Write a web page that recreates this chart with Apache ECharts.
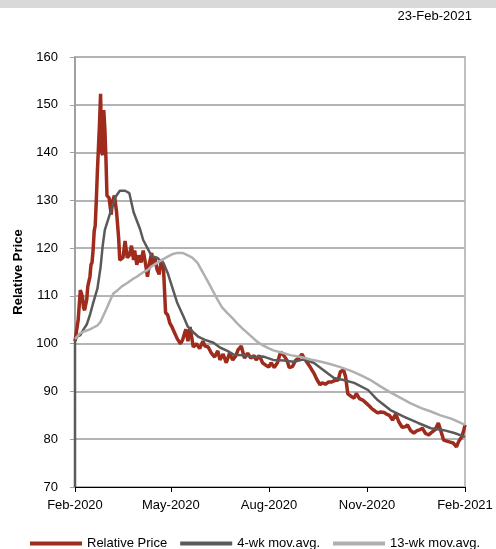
<!DOCTYPE html>
<html>
<head>
<meta charset="utf-8">
<script src="https://cdn.jsdelivr.net/npm/echarts@6/dist/echarts.min.js"></script>
<style>
html,body{margin:0;padding:0;background:#fff;}
#chart{width:496px;height:549px;}
</style>
</head>
<body>
<div id="chart"></div>
<script>
// Days counted from 23-Feb-2020
var startDate = [2020, 1, 23];
var tickDays = [0, 90, 182, 274, 366];
var yTicks = [70, 160, 10];
var headerDate = '23-Feb-2021';
var seriesNames = ['Relative Price', '4-wk mov.avg.', '13-wk mov.avg.'];

var priceDays = [0,2,3,5,7,8,9,11,12,14,15,16,17,18,19,20,21,22,23,24,25,26,27,28,29,30,32,34,35,37,39,41,42,45,47,49,51,53,55,56,58,60,62,64,66,68,70,72,73,75,77,79,81,83,85,87,89,91,94,96,99,101,104,106,108,111,114,117,120,122,125,128,131,134,136,139,142,145,148,151,153,156,159,162,165,168,170,173,176,179,182,184,187,190,193,196,199,201,204,207,210,213,215,218,221,224,227,230,232,235,238,241,244,247,249,252,254,256,259,262,264,267,270,273,276,279,281,284,287,290,293,295,298,301,304,307,310,312,315,318,321,324,326,329,332,335,338,341,343,346,349,352,355,358,360,363,365,366];
var priceValues = [100.5,103.5,105,111.2,109.8,107.5,107,109.2,112,114,116.5,117,119.6,123.5,124.8,130,136,141,146,152.3,140,139.5,148.9,145,139,131,130.5,127,129.7,131,127.6,122,117.5,118,121.5,118,118.5,120.5,117.5,119.5,116.5,118.5,117,119.5,117,114,117,119,116.5,118,115.5,114.5,117.5,116,106.5,106,104.3,103.5,102,101,100,100.8,103,100.5,103.5,99.3,100,99,100.5,99.5,99.3,98,97.2,98.5,96.6,97.8,96,98,96.6,97.5,98.7,99.5,97,98,97,97.5,96.6,97.5,96,95.5,95.1,96,95,96,98.3,97.5,96.5,95,95.2,96.5,97,97.8,97,96,95,93.9,92.5,91.4,91.8,91.5,92,92,92.3,92.4,94.1,94.5,93,89.5,89,88.6,89.6,88.5,88.2,87.6,87,86.3,86,85.5,85.7,85.6,85.2,85,84,85.3,83.6,82.5,82.6,83,81.8,81.3,81.8,82,82.3,81.2,80.9,81.5,82,83.4,82,79.8,79.6,79.4,79.2,78.4,79.5,80.5,82,83];

var ma4Days = [0,0,2,5,8,11,14,17,21,24,26,28,33,38,42,47,51,55,61,64,68,72,77,83,87,91,96,102,106,111,116,122,130,136,143,149,158,167,177,186,196,205,214,224,233,243,252,262,275,284,296,309,322,334,346,356,366];
var ma4Values = [70,100.5,101.5,101.8,103,104,106,108.5,111.5,116,120.5,123.8,127.3,130.7,132,132,131.5,127.5,124,121.7,120,118.3,118,116.9,114.8,112,108.5,105.6,103.5,102.4,101.4,100.8,100.2,99.2,98.5,97.7,97.6,97.2,97.3,96.6,96.5,96.2,96.7,96,94.5,92.8,92.4,91.8,90.3,88.2,86.1,84.7,83.4,82.3,81.9,81.3,80.5];

var ma13Days = [0,5,9,14,21,24,26,30,33,36,40,44,49,54,58,63,68,72,77,82,87,91,96,101,105,110,115,119,124,129,134,138,143,148,152,157,162,167,171,176,181,186,193,202,212,221,231,240,249,259,268,278,287,296,306,315,325,334,343,353,362,366];
var ma13Values = [101,102.2,102.6,103,103.8,104.6,105.6,107.5,109.1,110.5,111.2,112,112.7,113.5,114,114.8,115.4,116.2,116.9,117.6,118.2,118.7,119,119,118.6,118,116.9,115.3,113.3,111.2,109.1,107.6,106.4,105.3,104.3,103.2,102.2,101.2,100.4,99.7,99.1,98.6,98.2,97.6,97.2,96.7,96.2,95.7,95.1,94.3,93.4,92.3,91,89.8,88.6,87.5,86.5,85.8,85,84.3,83.4,83];

var DAY = 86400000;
var t0 = Date.UTC(startDate[0], startDate[1], startDate[2]);
var MONTHS = ['Jan','Feb','Mar','Apr','May','Jun','Jul','Aug','Sep','Oct','Nov','Dec'];
function dayLabel(d) { var dt = new Date(t0 + Math.round(d) * DAY); return MONTHS[dt.getUTCMonth()] + '-' + dt.getUTCFullYear(); }
function pairs(days, vals) { return days.map(function (d, i) { return [d, vals[i]]; }); }

var font = 'Liberation Sans, Arial, sans-serif';
var chart = echarts.init(document.getElementById('chart'), null, {renderer: 'canvas'});
chart.setOption({
  animation: false,
  backgroundColor: '#ffffff',
  textStyle: {fontFamily: font},
  graphic: [
    {type: 'rect', left: 0, top: 0, shape: {width: 496, height: 8}, style: {fill: '#d9d9d9'}, silent: true},
    {type: 'text', right: 24, top: 10, style: {text: headerDate, font: '13px ' + font, fill: '#000'}}
  ],
  grid: {left: 75, right: 31, top: 57, bottom: 62, show: true, borderColor: '#c0c0c0', borderWidth: 2, backgroundColor: 'transparent'},
  legend: {
    left: 30, top: 537, padding: 0, itemWidth: 52, itemHeight: 4, itemGap: 13, icon: 'rect',
    textStyle: {fontSize: 13, color: '#000', fontFamily: font},
    data: seriesNames
  },
  xAxis: {
    type: 'value', min: tickDays[0], max: tickDays[tickDays.length - 1],
    axisLine: {show: true, onZero: false, lineStyle: {color: '#000', width: 1}},
    axisTick: {show: true, inside: false, length: 5, customValues: tickDays, lineStyle: {color: '#000'}},
    axisLabel: {
      customValues: tickDays, color: '#000', fontSize: 13, fontFamily: font, margin: 12,
      showMinLabel: true, showMaxLabel: true,
      formatter: function (v) { return dayLabel(v); }
    },
    splitLine: {show: false}
  },
  yAxis: {
    type: 'value', min: yTicks[0], max: yTicks[1], interval: yTicks[2],
    name: 'Relative Price', nameLocation: 'middle', nameGap: 49, nameRotate: 90,
    nameTextStyle: {fontSize: 13, fontWeight: 'bold', color: '#000', fontFamily: font},
    axisLine: {show: true, lineStyle: {color: '#a0a0a0', width: 2}},
    axisTick: {show: true, inside: false, length: 5, lineStyle: {color: '#a0a0a0'}},
    axisLabel: {color: '#000', fontSize: 13, fontFamily: font, margin: 17},
    splitLine: {show: true, lineStyle: {color: '#b4b4b4', width: 2}}
  },
  series: [
    {name: seriesNames[0], type: 'line', data: pairs(priceDays, priceValues), showSymbol: false, symbol: 'none',
     lineStyle: {color: '#9e2b1c', width: 3.5}, itemStyle: {color: '#9e2b1c'}},
    {name: seriesNames[1], type: 'line', data: pairs(ma4Days, ma4Values), showSymbol: false, symbol: 'none',
     lineStyle: {color: '#5a5a5a', width: 2.5}, itemStyle: {color: '#5a5a5a'}},
    {name: seriesNames[2], type: 'line', data: pairs(ma13Days, ma13Values), showSymbol: false, symbol: 'none',
     lineStyle: {color: '#b0b0b0', width: 2.5}, itemStyle: {color: '#b0b0b0'}}
  ]
});
</script>
</body>
</html>
